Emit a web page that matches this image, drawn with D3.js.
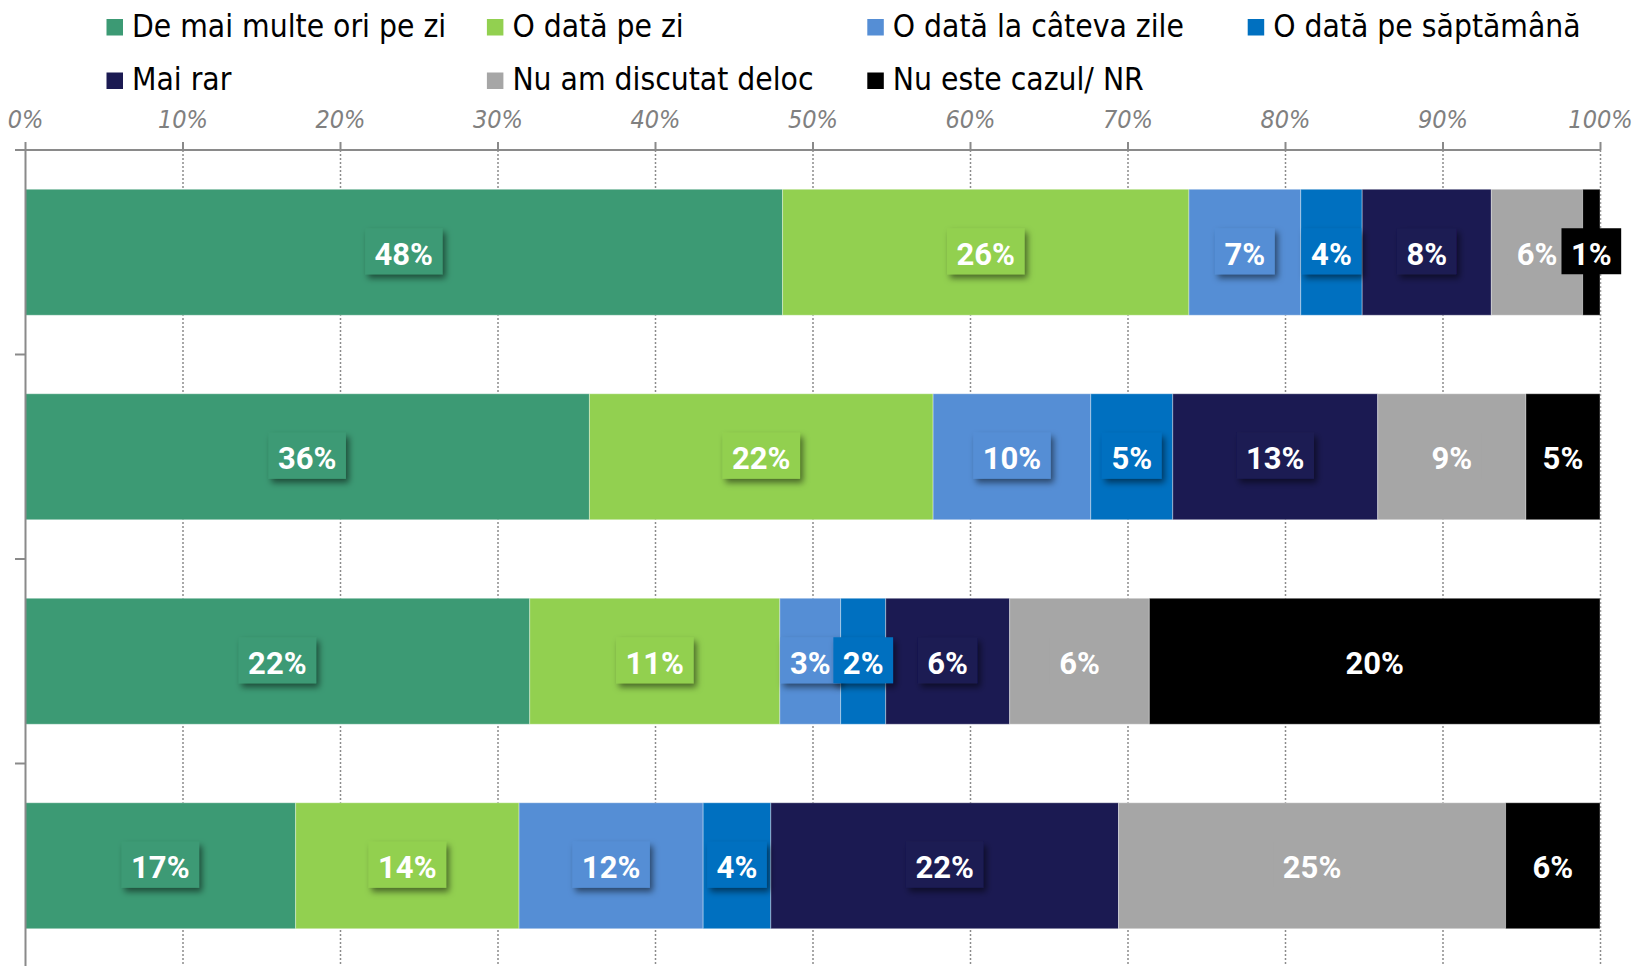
<!DOCTYPE html>
<html>
<head>
<meta charset="utf-8">
<script src="https://cdn.jsdelivr.net/npm/d3@7/dist/d3.min.js"></script>
<style>
  html, body { margin: 0; padding: 0; background: #fff; }
  svg { display: block; }
</style>
</head>
<body>
<svg id="chart" width="1633" height="966"></svg>
<script>
// ---- data ----
const categories = ["R1", "R2", "R3", "R4"];
const seriesNames = [
  "De mai multe ori pe zi",
  "O dată pe zi",
  "O dată la câteva zile",
  "O dată pe săptămână",
  "Mai rar",
  "Nu am discutat deloc",
  "Nu este cazul/ NR"
];
const seriesColors = ["#3C9A74", "#92D050", "#558ED5", "#0070C0", "#1B1A52", "#A6A6A6", "#000000"];
const deMaiMulteOri = [48.1, 35.8, 22.4, 17.2];
const oDataPeZi     = [25.8, 21.8, 11.1, 14.2];
const oDataLaCateva = [7.1, 10.0, 2.7, 11.7];
const oDataPeSapt   = [3.9, 5.2, 2.0, 4.3];
const maiRar        = [8.2, 13.0, 5.5, 22.1];
const nuAmDiscutat  = [5.8, 9.4, 6.2, 24.6];
const nuEsteCazul   = [1.1, 4.7, 20.0, 6.0];
const tickValues = [0, 10, 20, 30, 40, 50, 60, 70, 80, 90, 100];

const seriesValues = [deMaiMulteOri, oDataPeZi, oDataLaCateva, oDataPeSapt, maiRar, nuAmDiscutat, nuEsteCazul];

// ---- layout ----
const svg = d3.select("#chart");
const x0 = 25, x1 = 1600, yTop = 150, yBottom = 968;
const x = d3.scaleLinear().domain([0, 100]).range([x0, x1]);
const y = d3.scaleBand().domain(categories).range([yTop, yBottom]).paddingInner(0.384).paddingOuter(0.192);

// defs: drop shadow
const defs = svg.append("defs");
const f = defs.append("filter").attr("id", "shadow").attr("x", "-30%").attr("y", "-30%").attr("width", "160%").attr("height", "170%");
f.append("feDropShadow").attr("dx", 3).attr("dy", 4).attr("stdDeviation", 3)
  .attr("flood-color", "#000").attr("flood-opacity", 0.5);

// normalized stack
const rows = categories.map((c, i) => {
  const vals = seriesValues.map(s => s[i]);
  const total = d3.sum(vals);
  let cum = 0;
  return vals.map((v, k) => {
    const start = cum / total * 100;
    cum += v;
    return { cat: c, k, v, start, end: cum / total * 100 };
  });
});

// gridlines (dotted)
svg.append("g").selectAll("line").data(tickValues.filter(t => t > 0)).join("line")
  .attr("x1", d => x(d) + 0.5).attr("x2", d => x(d) + 0.5)
  .attr("y1", yTop).attr("y2", 966)
  .attr("stroke", "#8c8c8c").attr("stroke-width", 1.5).attr("stroke-dasharray", "2,2");

// bars
const gBars = svg.append("g");
rows.forEach(r => {
  gBars.selectAll(null).data(r).join("rect")
    .attr("x", d => x(d.start)).attr("width", d => x(d.end) - x(d.start))
    .attr("y", d => y(d.cat)).attr("height", y.bandwidth())
    .attr("fill", d => seriesColors[d.k])
    .attr("stroke", "rgba(255,255,255,0.35)").attr("stroke-width", 1);
});

// top axis
const axTop = d3.axisTop(x).tickValues(tickValues).tickSize(8).tickPadding(14)
  .tickFormat(d => d + "%");
const gx = svg.append("g").attr("transform", `translate(0,${yTop})`).call(axTop);
gx.select(".domain").remove();
gx.selectAll(".tick line").attr("stroke", "#8a8a8a").attr("stroke-width", 2);
gx.selectAll(".tick text")
  .attr("fill", "#808080")
  .style("font-family", "'Liberation Sans Narrow', 'DejaVu Sans Condensed', sans-serif")
  .style("font-style", "italic")
  .style("font-size", "25px");
svg.append("line").attr("x1", 15).attr("x2", x1).attr("y1", yTop).attr("y2", yTop)
  .attr("stroke", "#8a8a8a").attr("stroke-width", 2);

// left axis
const axLeft = d3.axisLeft(y).tickValues([]).tickSizeOuter(0);
const gy = svg.append("g").attr("transform", `translate(${x0},0)`).call(axLeft);
gy.select(".domain").attr("stroke", "#8a8a8a").attr("stroke-width", 2);
const boundaries = categories.slice(1).map(c => y(c) - y.step() * y.paddingInner() / 2);
svg.append("g").selectAll("line").data(boundaries).join("line")
  .attr("x1", 15).attr("x2", x0).attr("y1", d => d).attr("y2", d => d)
  .attr("stroke", "#8a8a8a").attr("stroke-width", 2);

// labels
const gLab = svg.append("g");
const labelFont = "Roboto, 'Open Sans', sans-serif";
seriesNames.forEach((s, k) => {
  rows.forEach(r => {
    const d = r[k];
    const cx = (x(d.start) + x(d.end)) / 2;
    const cy = y(d.cat) + y.bandwidth() / 2;
    const g = gLab.append("g");
    const t = g.append("text")
      .attr("x", cx).attr("y", cy).attr("dy", "0.41em")
      .attr("text-anchor", "middle")
      .attr("fill", "#fff")
      .style("font-family", labelFont).style("font-weight", "700").style("font-size", "31px")
      .text(Math.round(d.v) + "%");
    const w = t.node().getComputedTextLength();
    const box = g.insert("rect", "text")
      .attr("x", cx - w / 2 - 9.5).attr("y", cy - 24)
      .attr("width", w + 19).attr("height", 46)
      .attr("fill", seriesColors[k]);
    if (k < 5) box.attr("filter", "url(#shadow)");
  });
});

// legend
const leg = svg.append("g");
seriesNames.forEach((s, i) => {
  const col = i % 4, row = Math.floor(i / 4);
  const lx = 106.5 + col * 380.4;
  const base = row === 0 ? 36.5 : 90;
  leg.append("rect").attr("x", lx).attr("y", base - 17.5).attr("width", 16.5).attr("height", 16.5)
    .attr("fill", seriesColors[i]);
  leg.append("text").attr("x", lx + 25.5).attr("y", base)
    .attr("fill", "#000")
    .style("font-family", "'DejaVu Sans Condensed', 'DejaVu Sans', sans-serif")
    .style("font-size", "31.5px")
    .text(s);
});
</script>
</body>
</html>
